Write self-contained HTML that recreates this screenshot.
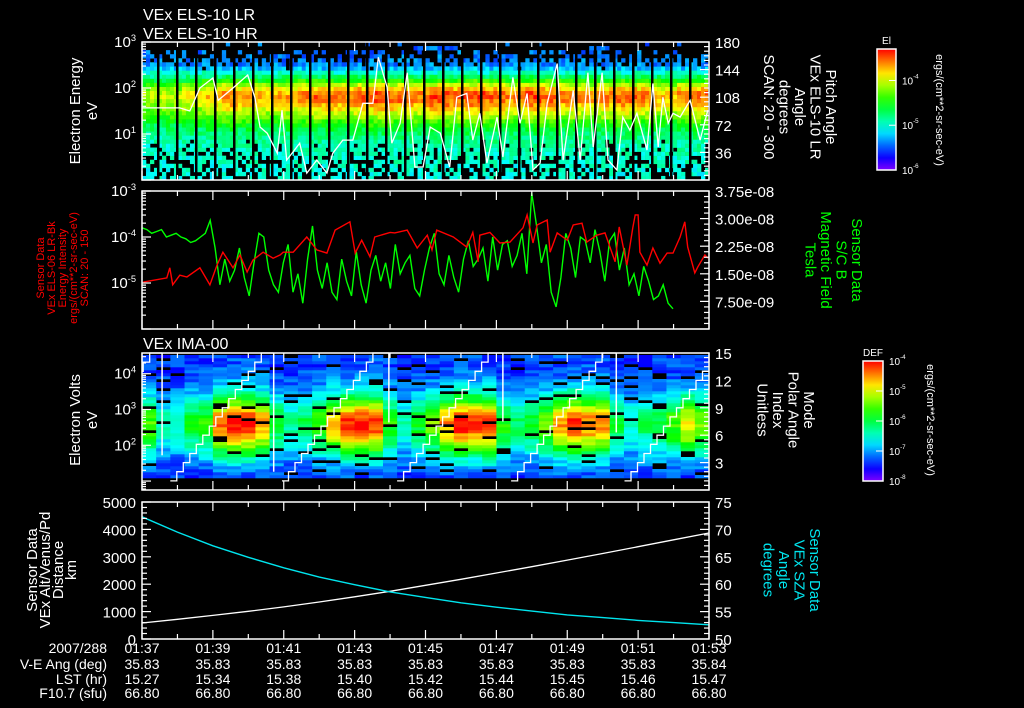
<!DOCTYPE html>
<html><head><meta charset="utf-8">
<style>
html,body{margin:0;padding:0;background:#000;}
svg{display:block;}
text{font-family:"Liberation Sans","DejaVu Sans",sans-serif;fill:#fff;}
</style></head>
<body>
<svg id="s" width="1024" height="708" xmlns="http://www.w3.org/2000/svg">
<rect x="0" y="0" width="1024" height="708" fill="#000"/>
<defs id="defs"></defs>
</svg>
<script>
// ---------- DATA ----------
const timeTickLabels = ["01:37","01:39","01:41","01:43","01:45","01:47","01:49","01:51","01:53"];
const veAngLabels = ["35.83","35.83","35.83","35.83","35.83","35.83","35.83","35.83","35.84"];
const lstLabels = ["15.27","15.34","15.38","15.40","15.42","15.44","15.45","15.46","15.47"];
const f107Labels = ["66.80","66.80","66.80","66.80","66.80","66.80","66.80","66.80","66.80"];

// Panel 1: ELS spectrogram
const p1Profile = [0.36,0.36,0.37,0.37,0.38,0.38,0.39,0.4,0.41,0.43,0.45,0.48,0.52,0.57,0.63,0.7,0.76,0.82,0.88,0.93,0.95,0.93,0.85,0.74,0.6,0.48,0.38,0.28,0.23,0.22,0.22,0.21,0.21,0.2];
const p1Density = [0.55,0.6,0.6,0.65,0.65,0.7,0.75,0.85,0.9,0.95,1,1,1,1,1,1,1,1,1,1,1,1,1,1,1,1,1,0.97,0.85,0.55,0.4,0.3,0.15,0.06];
const p1BlockAct = [0.6,0.62,0.7,0.8,0.9,0.85,0.8,0.85,0.9,0.95,0.9,0.95,1,0.95,0.9,1,0.95,1,0.95,0.9,1,0.95,0.9,0.85,0.9,0.95,0.9,0.8,0.9,0.95];
const noiseTable = [0.12,0.87,0.45,0.66,0.03,0.91,0.34,0.58,0.77,0.21,0.49,0.95,0.08,0.63,0.29,0.82,0.41,0.17,0.72,0.55,0.99,0.26,0.68];
const pitchSec = [0,64,81,98,120,129,154,179,191,200,212,229,237,245,267,279,296,313,323,340,357,374,391,400,415,423,437,449,462,476,488,505,521,533,550,560,572,584,601,611,628,640,652,662,674,686,703,713,730,742,755,764,779,789,804,814,826,838,855,865,874,882,891,899,911,928,945,958];
const pitchDeg = [94,94,90,120,133,104,120,137,108,69,61,35,91,26,48,9,26,9,35,52,52,100,100,160,121,48,74,140,17,17,69,61,17,108,113,52,87,22,82,30,134,74,113,13,22,100,152,26,117,26,140,43,140,26,13,82,65,87,39,126,43,108,74,87,82,104,52,91];

// Panel 2: energy intensity (red, log10) and magnetic field (green, 1e-8 T)
const redSec = [2,42,47,52,64,76,98,115,127,137,154,166,178,188,205,222,234,239,256,279,296,313,327,352,361,372,386,394,420,428,449,466,483,491,499,527,550,560,569,572,589,606,623,645,652,662,669,686,691,703,720,730,745,753,770,784,801,808,821,831,835,840,843,855,865,877,889,899,911,919,924,936,941,953,958];
const redLog = [-4.98,-4.89,-4.67,-5.04,-4.83,-4.87,-4.67,-5.04,-4.61,-4.33,-4.67,-4.39,-4.76,-4.5,-4.33,-4.46,-4.39,-4.33,-4.33,-4.0,-4.28,-4.35,-3.85,-3.67,-4.35,-4.07,-4.43,-4.0,-3.9,-3.91,-3.85,-4.24,-3.96,-4.28,-3.85,-4.0,-4.22,-3.9,-4.54,-3.96,-3.9,-4.13,-4.11,-3.8,-3.52,-4.13,-3.74,-3.63,-4.33,-3.91,-4.07,-3.74,-3.7,-4.11,-3.96,-3.91,-4.54,-3.78,-4.61,-3.8,-3.52,-3.52,-4.33,-4.61,-4.24,-4.57,-4.35,-4.35,-4.0,-3.67,-4.22,-4.78,-4.65,-4.39,-4.46];
const greenEndSec = 899;
const greenB = [2.75,2.7,2.6,2.65,2.7,2.5,2.55,2.6,2.5,2.45,2.35,2.4,2.5,2.6,2.95,
 2.2,1.2,1.9,1.3,1.6,2.2,1.4,0.9,1.8,2.6,
 2.5,1.6,1.2,1.0,1.8,2.3,1.0,1.5,0.7,1.9,
 2.8,1.6,1.1,1.8,1.0,0.8,1.9,1.3,0.9,2.1,
 1.2,0.7,1.6,2.0,1.3,1.8,1.1,2.3,1.5,1.8,
 2.0,1.1,0.9,1.6,2.2,2.6,1.5,1.2,2.0,1.4,
 1.0,1.9,2.4,1.7,1.9,2.2,1.3,2.5,1.6,2.3,
 2.4,1.7,2.0,2.6,1.5,3.7,2.8,1.8,2.3,1.0,
 0.6,1.4,2.6,2.2,1.4,2.5,2.4,1.8,2.7,2.1,
 1.3,2.4,2.6,1.6,2.2,1.2,1.5,0.9,1.7,1.3,
 0.8,0.9,1.2,0.7,0.55];

// Panel 3: IMA spectrogram + mode staircase
const p3ColPeak = [0.55,0.3,0.3,0.45,0.5,0.9,1.0,1.0,0.85,0.45,0.35,0.4,0.55,0.8,0.95,1.0,0.95,0.5,0.3,0.45,0.6,0.85,1.0,0.95,0.95,0.5,0.4,0.45,0.6,0.85,0.98,0.9,0.85,0.45,0.3,0.4,0.45,0.55,0.75,0.6];
const p3Profile = [0.05,0.08,0.12,0.15,0.2,0.25,0.3,0.38,0.45,0.53,0.6,0.68,0.75,0.82,0.88,0.93,0.97,1,1,0.98,0.94,0.88,0.8,0.72,0.63,0.55,0.47,0.4,0.33,0.27,0.22,0.18,0.15,0.12,0.1,0.08,0.07,0.06,0.05,0.05,0.05];
const sweepStartSec = [-155,34,223,418,611,803];
const sweepDropTo = [15,3.8,2.0,7.4,7.5,6.3];

// Panel 4: altitude & SZA per minute 01:37..01:53
const altKm = [585,720,860,1010,1170,1350,1540,1740,1960,2180,2410,2640,2880,3120,3370,3620,3870];
const szaDeg = [72.3,69.5,67.0,64.9,63.0,61.3,59.9,58.6,57.6,56.6,55.8,55.1,54.4,53.9,53.4,53.0,52.6];

// ---------- HELPERS ----------
const NS='http://www.w3.org/2000/svg';
const svg=document.getElementById('s');
const defs=document.getElementById('defs');
function mk(tag,attrs,parent){const e=document.createElementNS(NS,tag);for(const k in attrs)e.setAttribute(k,attrs[k]);(parent||svg).appendChild(e);return e;}
const X0=142,X1=709,S1=960;
const xS=s=>X0+s/S1*(X1-X0);
function cmap(t){t=Math.max(0,Math.min(1,t));return 'hsl('+(270*(1-t)).toFixed(0)+',100%,50%)';}
function noise(a,b){return noiseTable[((a*7+b*13+((a*b)%11))%23+23)%23];}
function txt(x,y,s,opts,parent){
  const o=Object.assign({'font-size':14},opts||{});
  const t=mk('text',Object.assign({x:x,y:y},o),parent);
  t.textContent=s;return t;
}
function supTxt(x,y,base,exp,anchor,size,parent){
  const t=mk('text',{x:x,y:y,'font-size':size||14,'text-anchor':anchor||'end'},parent);
  t.appendChild(document.createTextNode(base));
  const sp=mk('tspan',{dy:-6,'font-size':(size||14)*0.62},t);
  sp.textContent=exp;
  return t;
}
function rotLabel(x,cy,lines,dir,color,size,gap,name){
  const g=mk('g',{});
  
  
  lines.forEach((s,i)=>{
    const xx=dir>0? x - i*gap : x + i*gap;
    const t=mk('text',{x:0,y:0,'font-size':size,'text-anchor':'middle',transform:'translate('+xx+','+cy+') rotate('+(dir>0?90:-90)+')',style:'fill:'+color},g);
    t.textContent=s;
  });
  return g;
}
function frame(y0,y1,name){
  const g=mk('g',{});
  
  
  mk('rect',{x:X0,y:y0,width:X1-X0,height:y1-y0,fill:'none',stroke:'#fff','stroke-width':1.5},g);
  for(let m=0;m<=16;m++){
    const x=xS(m*60),L=m%2==0?9:5;
    mk('line',{x1:x,x2:x,y1:y0,y2:y0+L,stroke:'#fff','stroke-width':1.2},g);
    mk('line',{x1:x,x2:x,y1:y1,y2:y1-L,stroke:'#fff','stroke-width':1.2},g);
  }
  return g;
}
function logAxis(y0,y1,lo,hi,labels,name){
  const g=mk('g',{});
  
  
  const yv=v=>y1-(v-lo)/(hi-lo)*(y1-y0);
  for(let d=Math.floor(lo);d<=Math.ceil(hi);d++){
    for(let k=1;k<=9;k++){
      const v=d+Math.log10(k); if(v<lo-1e-6||v>hi+1e-6)continue;
      const L=k==1?9:4;
      mk('line',{x1:X0,x2:X0+L,y1:yv(v),y2:yv(v),stroke:'#fff','stroke-width':1.2},g);
    }
  }
  labels.forEach(e=>{supTxt(136,yv(e)+5,'10',String(e),'end',15,g);});
  return g;
}
function linAxis(x,y0,y1,lo,hi,major,minor,labels,side,name){
  const g=mk('g',{});
  
  
  const yv=v=>y1-(v-lo)/(hi-lo)*(y1-y0);
  const n=Math.round((hi-lo)/minor);
  for(let i=0;i<=n;i++){
    const v=lo+i*minor;const isM=Math.abs((v-lo)/major-Math.round((v-lo)/major))<1e-6;
    const L=isM?9:5;
    const dx=side=='right'?-L:L;
    mk('line',{x1:x,x2:x+dx,y1:yv(v),y2:yv(v),stroke:'#fff','stroke-width':1.2},g);
  }
  labels.forEach(l=>{
    if(side=='right') txt(x+6,yv(l[0])+6,l[1],{'font-size':15},g);
    else txt(x-6,yv(l[0])+6,l[1],{'font-size':15,'text-anchor':'end'},g);
  });
  return g;
}

// ---------- TITLES ----------
const t1=txt(143,20,'VEx ELS-10 LR',{'font-size':16});


const t2=txt(143,39,'VEx ELS-10 HR',{'font-size':16});


const t3=txt(143,349,'VEx IMA-00',{'font-size':16});



// ---------- PANEL 1 ----------
const P1={y0:42,y1:180};
const g1=mk('g',{});


const nC1=142,nR1=p1Profile.length,cw1=(X1-X0)/nC1,rh1=(P1.y1-P1.y0)/nR1;
for(let c=0;c<nC1;c++){
  const act=p1BlockAct[Math.min(p1BlockAct.length-1,Math.floor(c*cw1/19))];
  for(let r=0;r<nR1;r++){
    const n2=noise(c*3+1,r*5+2);
    if(n2>p1Density[r])continue;
    const n1=noise(c,r);
    const p=p1Profile[r];
    const t=p-(1-act)*Math.max(0,p-0.35)+(n1-0.5)*0.12;
    const cell=mk('rect',{x:(X0+c*cw1).toFixed(2),y:(P1.y1-(r+1)*rh1).toFixed(2),width:(cw1+0.3).toFixed(2),height:(rh1+0.3).toFixed(2),fill:cmap(t)},g1);
    
    
  }
}
for(let x=157;x<X1;x+=19){
  const gap=mk('rect',{x:x,y:P1.y0,width:2.5,height:P1.y1-P1.y0,fill:'#000'},g1);
  
  
}
const paPts=pitchSec.map((s,i)=>xS(s).toFixed(1)+','+(P1.y1-pitchDeg[i]/180*(P1.y1-P1.y0)).toFixed(1)).join(' ');
const paLine=mk('polyline',{points:paPts,fill:'none',stroke:'#fff','stroke-width':1.3});


frame(P1.y0,P1.y1,'els-frame');
logAxis(P1.y0,P1.y1,0,3,[3,2,1],'electron-energy-axis');
linAxis(X1,P1.y0,P1.y1,0,180,36,6,[[180,'180'],[144,'144'],[108,'108'],[72,'72'],[36,'36']],'right','pitch-angle-axis');
rotLabel(80,111,['Electron Energy','eV'],-1,'#fff',15,17,'electron-energy-axis-title').querySelectorAll('text')[1].setAttribute('x',0);
rotLabel(826,107,['Pitch Angle','VEx ELS-10 LR','Angle','degrees','SCAN: 20 - 300'],1,'#fff',15,15.5,'pitch-angle-axis-title');

// colorbar 1
function colorbar(id,x,y,w,h,title,labels,unitX,unitY,name){
  const lg=mk('linearGradient',{id:id,x1:0,y1:1,x2:0,y2:0},defs);
  for(let i=0;i<=10;i++){mk('stop',{offset:i/10,'stop-color':cmap(i/10)},lg);}
  const g=mk('g',{});
  
  
  mk('rect',{x:x,y:y,width:w,height:h,fill:'url(#'+id+')',stroke:'#fff','stroke-width':1.5},g);
  txt(x+w/2,y-5,title,{'font-size':10,'text-anchor':'middle'},g);
  labels.forEach(l=>{
    const yy=y+h-(l[0])*h;
    mk('line',{x1:x+w,x2:x+w-7,y1:yy,y2:yy,stroke:'#fff','stroke-width':1},g);
    supTxt(x+w+6,yy+4,'10',l[1],'start',10,g);
  });
  const u=mk('text',{x:0,y:0,'font-size':11,'text-anchor':'middle',transform:'translate('+unitX+','+unitY+') rotate(90)'},g);
  u.textContent='ergs/(cm**2-sr-sec-eV)';
  return g;
}
colorbar('cb1',877,49,19,121,'El',[[0.74,'-4'],[0.37,'-5'],[0,'-6']],936,110,'els-colorbar');

// ---------- PANEL 2 ----------
const P2={y0:191,y1:329};
const yRed=v=>P2.y1-(v+6)/3*(P2.y1-P2.y0);
const yGreen=v=>P2.y1-v/3.75*(P2.y1-P2.y0);
const gPts=greenB.map((v,i)=>xS(i*greenEndSec/(greenB.length-1)).toFixed(1)+','+yGreen(v).toFixed(1)).join(' ');
const gl=mk('polyline',{points:gPts,fill:'none',stroke:'#00ff00','stroke-width':1.4});


const rPts=redSec.map((s,i)=>xS(s).toFixed(1)+','+yRed(redLog[i]).toFixed(1)).join(' ');
const rl=mk('polyline',{points:rPts,fill:'none',stroke:'#ff0000','stroke-width':1.4});


frame(P2.y0,P2.y1,'field-frame');
logAxis(P2.y0,P2.y1,-6,-3,[-3,-4,-5],'energy-intensity-axis');
linAxis(X1,P2.y0,P2.y1,0,3.75,0.75,0.15,[[3.75,'3.75e-08'],[3.0,'3.00e-08'],[2.25,'2.25e-08'],[1.5,'1.50e-08'],[0.75,'7.50e-09']],'right','magnetic-field-axis');
rotLabel(44,268,['Sensor Data','VEx ELS-06 LR-Bk','Energy Intensity','ergs/(cm**2-sr-sec-eV)','SCAN: 20 - 150'],-1,'#ff0000',11,11,'energy-intensity-axis-title');
rotLabel(852,260,['Sensor Data','S/C B','Magnetic Field','Tesla'],1,'#00ff00',15,15.5,'magnetic-field-axis-title');

// ---------- PANEL 3 ----------
const P3={y0:353,y1:490};
const g3=mk('g',{});


const nC3=p3ColPeak.length,nR3=p3Profile.length,cw3=(X1-X0)/nC3,rh3=3,base3=478;
for(let c=0;c<nC3;c++){
  for(let r=0;r<nR3;r++){
    const n2=noise(c*5+3,r*3+1);
    if(n2<0.1)continue;
    const n1=noise(c+2,r*2);
    const t=0.14+p3ColPeak[c]*p3Profile[r]*0.86+(n1-0.5)*0.12;
    const cell=mk('rect',{x:(X0+c*cw3).toFixed(2),y:(base3-(r+1)*rh3).toFixed(2),width:(cw3+0.3).toFixed(2),height:rh3+0.3,fill:cmap(t)},g3);
    
    
  }
}
const yMode=v=>P3.y1-v/15*(P3.y1-P3.y0);
const gm=mk('g',{});


sweepStartSec.forEach((s0,i)=>{
  const pts=[];
  const end=i+1<sweepStartSec.length?sweepStartSec[i+1]:S1;
  for(let k=1;k<=15;k++){
    const a=s0+14+(k-1)*11,b=Math.min(k==15?end:a+11,end);
    if(b<0||a>=end)continue;
    const aa=Math.max(a,0),bb=Math.min(b,S1);
    if(bb<=aa)continue;
    pts.push(xS(aa).toFixed(1)+','+yMode(k).toFixed(1));
    pts.push(xS(bb).toFixed(1)+','+yMode(k).toFixed(1));
  }
  if(pts.length){const pl=mk('polyline',{points:pts.join(' '),fill:'none',stroke:'#fff','stroke-width':1.3},gm);
    
    }
  if(s0>=0){
    const vl=mk('line',{x1:xS(s0),x2:xS(s0),y1:yMode(15),y2:yMode(sweepDropTo[i]),stroke:'#fff','stroke-width':1.5},gm);
    
    
  }
});
frame(P3.y0,P3.y1,'ima-frame');
logAxis(P3.y0,P3.y1,0.75,4.58,[4,3,2],'electron-volts-axis');
linAxis(X1,P3.y0,P3.y1,0,15,3,0.5,[[15,'15'],[12,'12'],[9,'9'],[6,'6'],[3,'3']],'right','mode-axis');
rotLabel(80,420,['Electron Volts','eV'],-1,'#fff',15,17,'electron-volts-axis-title');
rotLabel(804,410,['Mode','Polar Angle','Index','Unitless'],1,'#fff',15,15.5,'mode-axis-title');
colorbar('cb2',863,361,20,120,'DEF',[[1,'-4'],[0.75,'-5'],[0.5,'-6'],[0.25,'-7'],[0,'-8']],927,420,'ima-colorbar');

// ---------- PANEL 4 ----------
const P4={y0:502,y1:639};
const yAlt=v=>P4.y1-v/5000*(P4.y1-P4.y0);
const ySza=v=>P4.y1-(v-50)/25*(P4.y1-P4.y0);
const aPts=altKm.map((v,i)=>xS(i*60).toFixed(1)+','+yAlt(v).toFixed(1)).join(' ');
const al=mk('polyline',{points:aPts,fill:'none',stroke:'#fff','stroke-width':1.3});


const zPts=szaDeg.map((v,i)=>xS(i*60).toFixed(1)+','+ySza(v).toFixed(1)).join(' ');
const zl=mk('polyline',{points:zPts,fill:'none',stroke:'#00e5ee','stroke-width':1.4});


frame(P4.y0,P4.y1,'orbit-frame');
linAxis(X0,P4.y0,P4.y1,0,5000,1000,200,[[5000,'5000'],[4000,'4000'],[3000,'3000'],[2000,'2000'],[1000,'1000'],[0,'0']],'left','altitude-axis');
linAxis(X1,P4.y0,P4.y1,50,75,5,1,[[75,'75'],[70,'70'],[65,'65'],[60,'60'],[55,'55'],[50,'50']],'right','sza-axis');
rotLabel(37,570,['Sensor Data','VEx Alt/Venus/Pd','Distance','km'],-1,'#fff',15,13,'altitude-axis-title');
rotLabel(810,570,['Sensor Data','VEx SZA','Angle','degrees'],1,'#00e5ee',15,15.5,'sza-axis-title');

// ---------- BOTTOM ANNOTATION ----------
const ga=mk('g',{});


const rowsY=[653,669,684,698];
['2007/288','V-E Ang (deg)','LST (hr)','F10.7 (sfu)'].forEach((s,i)=>txt(107,rowsY[i],s,{'font-size':14,'text-anchor':'end'},ga));
[timeTickLabels,veAngLabels,lstLabels,f107Labels].forEach((arr,ri)=>{
  arr.forEach((s,i)=>txt(xS(i*120),rowsY[ri],s,{'font-size':14,'text-anchor':'middle'},ga));
});
</script>
</body></html>
